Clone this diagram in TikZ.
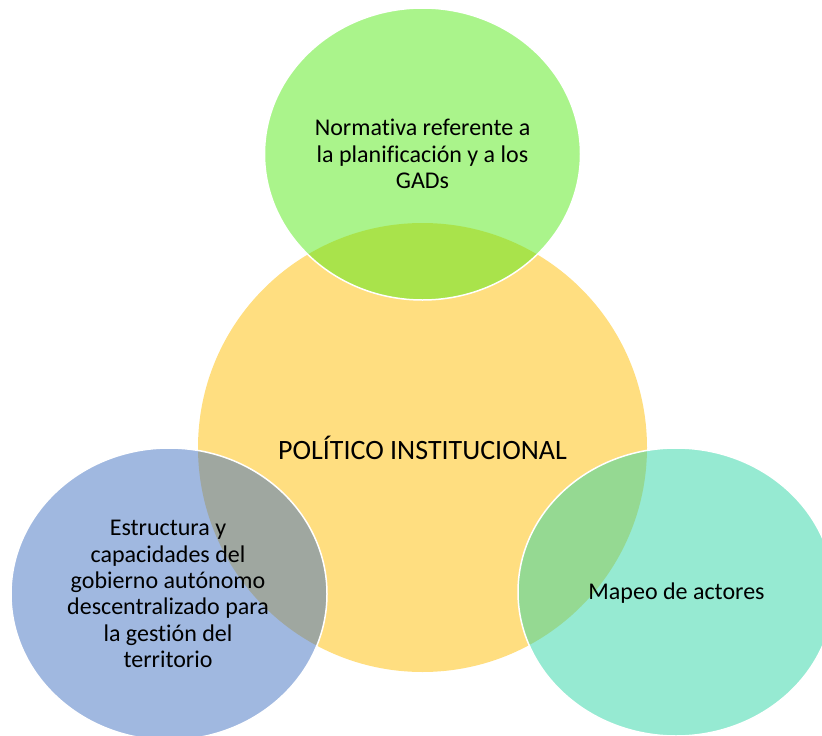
\documentclass[tikz,border=0pt]{standalone}
\usepackage{fontspec}
\setmainfont{Carlito}[Ligatures={NoCommon}]
\usetikzlibrary{shapes.geometric}
\definecolor{cyel}{RGB}{255,222,128}
\definecolor{cgreen}{RGB}{85,233,23}
\definecolor{cblue}{RGB}{65,113,193}
\definecolor{cteal}{RGB}{45,213,165}
\tikzset{
  sat/.style={ellipse, inner sep=0pt, minimum width=316pt, minimum height=292pt,
    fill opacity=0.5, draw=white, draw opacity=1, line width=1.5pt},
  lbl/.style={align=center, text=black, inner sep=0pt,
    font=\fontsize{24}{26.3}\selectfont},
}
\begin{document}
\begin{tikzpicture}[x=1pt,y=-1pt]
\useasboundingbox (0,0) rectangle (822,736);
\clip (0,0) rectangle (822,736);
\node[circle, fill=cyel, inner sep=0pt, minimum size=449pt] (core) at (422.5,447.5) {};
\node[sat, fill=cgreen] (top) at (422.5,154) {};
\node[sat, fill=cblue] (left) at (169,594) {};
\node[sat, fill=cteal, minimum height=288pt] (right) at (676,592) {};
\node[lbl, font=\fontsize{28}{32}\selectfont] (coret) at (core) {POLÍTICO INSTITUCIONAL};
\node[lbl] (topt) at (422.5,154) {Normativa referente a\\la planificación y a los\\GADs};
\node[lbl] (leftt) at (168,594) {Estructura y\\capacidades del\\gobierno autónomo\\descentralizado para\\la gestión del\\territorio};
\node[lbl] (rightt) at (676.5,593) {Mapeo de actores};
\end{tikzpicture}
\end{document}
